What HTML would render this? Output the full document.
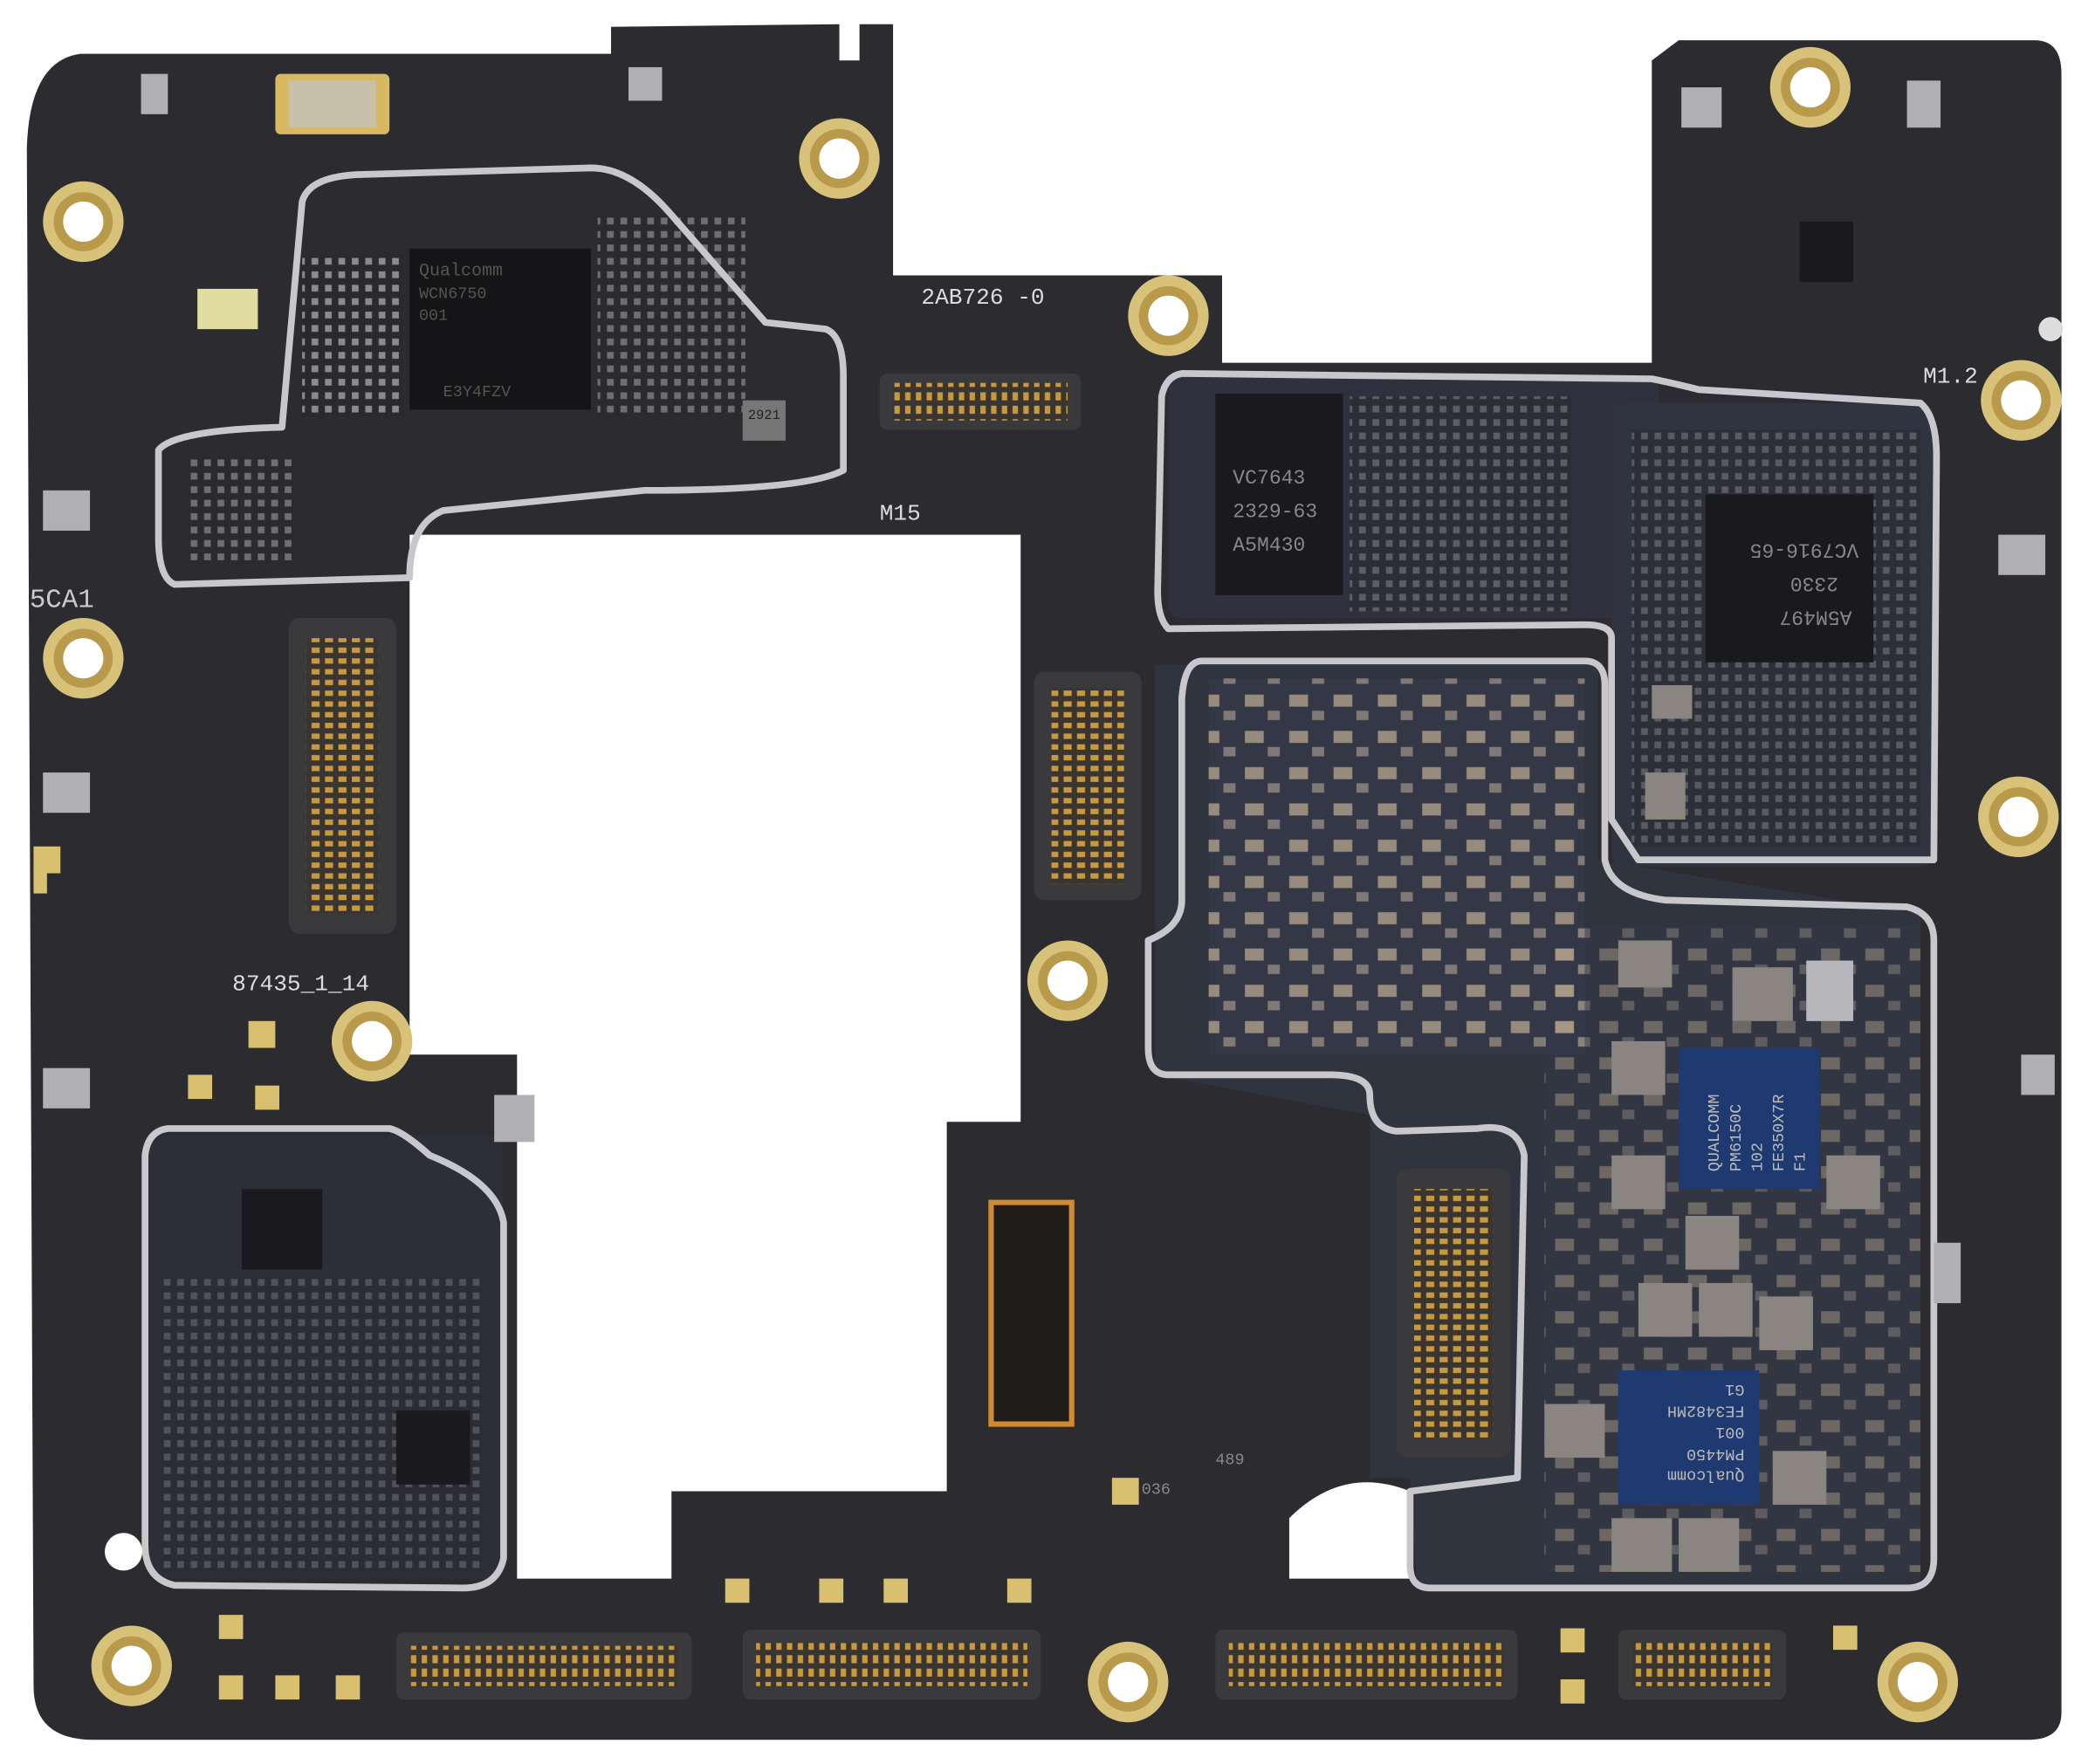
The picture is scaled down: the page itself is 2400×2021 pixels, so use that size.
<!DOCTYPE html>
<html><head><meta charset="utf-8"><style>
html,body{margin:0;padding:0;background:#fff;}
svg{display:block}
text{font-family:"Liberation Mono",monospace;}
</style></head><body>
<svg width="2400" height="2021" viewBox="0 0 1560 1313" preserveAspectRatio="none" xmlns="http://www.w3.org/2000/svg">
<defs>
<g id="hole"><circle r="30" fill="#d8c27a"/><circle r="22" fill="#b89a4a"/><circle r="15" fill="#fff"/></g>
<pattern id="pads" width="10" height="10" patternUnits="userSpaceOnUse"><rect width="10" height="10" fill="#2a2a2e"/><rect x="2" y="2" width="5" height="5" fill="#8a8a90"/></pattern>
<pattern id="pins" width="8" height="20" patternUnits="userSpaceOnUse"><rect width="8" height="20" fill="#3a3530"/><rect x="2" y="2" width="4" height="6" fill="#c89a40"/><rect x="2" y="12" width="4" height="6" fill="#c89a40"/></pattern>
<pattern id="pinsv" width="20" height="8" patternUnits="userSpaceOnUse"><rect width="20" height="8" fill="#3a3530"/><rect x="2" y="2" width="6" height="4" fill="#c89a40"/><rect x="12" y="2" width="6" height="4" fill="#c89a40"/></pattern>
<pattern id="caps" width="33" height="27" patternUnits="userSpaceOnUse"><rect width="33" height="27" fill="#343848"/><rect x="3" y="4" width="14" height="9" fill="#b8a890"/><rect x="20" y="16" width="9" height="7" fill="#9a9088"/></pattern>
</defs>
<path fill="#2c2c30" d="M60 40 L455 40 L455 20 L625 18 L625 45 L640 45 L640 18 L665 18 L665 205 L910 205 L910 270 L1230 270 L1230 45 L1250 30 L1515 30 Q1535 30 1535 55 L1535 1275 Q1535 1295 1510 1295 L70 1295 Q25 1295 25 1255 L20 110 Q22 45 60 40 Z"/>
<path fill="#fff" d="M305 398 L760 398 L760 835 L705 835 L705 1110 L500 1110 L500 1175 L385 1175 L385 785 L305 785 Z"/>
<path fill="#fff" d="M960 1175 L960 1130 Q1000 1090 1050 1110 L1050 1175 Z"/>
<rect x="870" y="280" width="365" height="180" fill="#2f323e" rx="10"/>
<path fill="#30343f" d="M860 495 L1190 495 L1190 640 L1430 680 L1430 1180 L1055 1180 L1050 1100 L1020 1100 L1020 830 L860 800 Z"/>
<rect x="1200" y="300" width="240" height="345" fill="#303340" rx="10"/>
<rect x="110" y="845" width="265" height="330" fill="#2d2f36" rx="14"/>
<rect x="225" y="190" width="75" height="120" fill="url(#pads)"/>
<rect x="445" y="160" width="110" height="150" fill="url(#pads)" opacity=".7"/>
<rect x="140" y="340" width="80" height="80" fill="url(#pads)" opacity=".7"/>
<rect x="1005" y="295" width="165" height="160" fill="url(#pads)" opacity=".5"/>
<rect x="1215" y="320" width="215" height="310" fill="url(#pads)" opacity=".45"/>
<rect x="120" y="950" width="240" height="220" fill="url(#pads)" opacity=".4"/>
<rect x="900" y="505" width="280" height="280" fill="url(#caps)" opacity=".75"/>
<rect x="1150" y="690" width="280" height="480" fill="url(#caps)" opacity=".45"/>
<g fill="none" stroke="#c8c8cc" stroke-width="5" stroke-linejoin="round">
<path d="M265 130 L440 125 Q470 125 500 160 L570 240 L615 245 Q628 250 628 280 L628 350 Q600 365 480 365 L330 380 Q305 390 305 430 L130 435 Q118 430 118 400 L118 335 Q130 320 210 318 L225 150 Q230 132 265 130 Z"/>
<path d="M880 278 L1230 282 Q1245 285 1265 290 L1430 300 Q1442 310 1442 340 L1440 640 L1220 640 L1200 610 L1200 475 Q1200 465 1180 465 L870 468 Q862 460 862 440 L865 295 Q868 280 880 278 Z"/>
<path d="M895 492 L1180 492 Q1195 492 1195 510 L1195 640 Q1200 665 1240 670 L1420 675 Q1440 680 1440 700 L1440 1160 Q1440 1182 1420 1182 L1065 1182 Q1050 1182 1050 1165 L1050 1110 L1130 1100 L1135 860 Q1130 835 1100 840 L1040 842 Q1020 840 1020 815 Q1020 800 990 800 L870 800 Q855 800 855 780 L855 700 Q880 690 880 670 L880 520 Q882 492 895 492 Z"/>
<path d="M125 840 L290 840 Q300 842 320 860 Q370 880 375 910 L375 1160 Q370 1182 345 1182 L130 1180 Q108 1175 108 1150 L108 860 Q110 842 125 840 Z"/>
</g>
<use href="#hole" x="62" y="165"/><use href="#hole" x="62" y="490"/><use href="#hole" x="625" y="118"/>
<use href="#hole" x="870" y="235"/><use href="#hole" x="1348" y="65"/><use href="#hole" x="1505" y="298"/>
<use href="#hole" x="1503" y="608"/><use href="#hole" x="795" y="730"/><use href="#hole" x="277" y="775"/>
<use href="#hole" x="98" y="1240"/><use href="#hole" x="840" y="1252"/><use href="#hole" x="1428" y="1252"/>
<circle cx="92" cy="1155" r="14" fill="#fff"/><circle cx="1527" cy="245" r="9" fill="#ddd"/>
<rect x="305" y="185" width="135" height="120" fill="#151517"/>
<text x="312" y="205" font-size="13" fill="#555">Qualcomm</text><text x="312" y="222" font-size="12" fill="#555">WCN6750</text><text x="312" y="238" font-size="12" fill="#555">001</text><text x="330" y="295" font-size="12" fill="#555">E3Y4FZV</text>
<rect x="905" y="293" width="95" height="150" fill="#1a1a1e"/>
<text x="918" y="360" font-size="15" fill="#888">VC7643</text><text x="918" y="385" font-size="15" fill="#888">2329-63</text><text x="918" y="410" font-size="15" fill="#888">A5M430</text>
<rect x="1270" y="368" width="125" height="125" fill="#1a1a1e"/>
<g transform="rotate(180 1332 430)"><text x="1285" y="405" font-size="15" fill="#888">A5M497</text><text x="1295" y="430" font-size="15" fill="#888">2330</text><text x="1280" y="455" font-size="15" fill="#888">VC7916-65</text></g>
<rect x="1250" y="780" width="105" height="105" fill="#1e3a70"/>
<g transform="rotate(-90 1302 832)"><text x="1262" y="810" font-size="12" fill="#bbb">QUALCOMM</text><text x="1262" y="826" font-size="12" fill="#bbb">PM6150C</text><text x="1262" y="842" font-size="12" fill="#bbb">102</text><text x="1262" y="858" font-size="12" fill="#bbb">FE350X7R</text><text x="1262" y="874" font-size="12" fill="#bbb">F1</text></g>
<rect x="1205" y="1020" width="105" height="100" fill="#1e3a70"/>
<g transform="rotate(180 1257 1070)"><text x="1215" y="1045" font-size="12" fill="#bbb">Qualcomm</text><text x="1215" y="1061" font-size="12" fill="#bbb">PM4450</text><text x="1215" y="1077" font-size="12" fill="#bbb">001</text><text x="1215" y="1093" font-size="12" fill="#bbb">FE3482MH</text><text x="1215" y="1109" font-size="12" fill="#bbb">G1</text></g>
<rect x="180" y="885" width="60" height="60" fill="#1a1a1e"/>
<rect x="295" y="1050" width="55" height="55" fill="#1a1a1e"/>
<rect x="1340" y="165" width="40" height="45" fill="#1a1a1e"/>
<g fill="#8a8580">
<rect x="1205" y="700" width="40" height="35"/><rect x="1290" y="720" width="45" height="40"/><rect x="1345" y="715" width="35" height="45" fill="#b8b8bc"/>
<rect x="1200" y="775" width="40" height="40"/><rect x="1200" y="860" width="40" height="40"/><rect x="1360" y="860" width="40" height="40"/>
<rect x="1255" y="905" width="40" height="40"/><rect x="1220" y="955" width="40" height="40"/><rect x="1265" y="955" width="40" height="40"/><rect x="1310" y="965" width="40" height="40"/>
<rect x="1150" y="1045" width="45" height="40"/><rect x="1320" y="1080" width="40" height="40"/><rect x="1200" y="1130" width="45" height="40"/><rect x="1250" y="1130" width="45" height="40"/>
<rect x="1230" y="510" width="30" height="25"/><rect x="1225" y="575" width="30" height="35"/>
</g>
<rect x="215" y="460" width="80" height="235" rx="8" fill="#3a3a3c"/><rect x="228" y="475" width="54" height="205" fill="url(#pinsv)"/>
<rect x="770" y="500" width="80" height="170" rx="8" fill="#3a3a3c"/><rect x="783" y="512" width="54" height="146" fill="url(#pinsv)"/>
<rect x="655" y="278" width="150" height="42" rx="6" fill="#3a3a3c"/><rect x="665" y="285" width="130" height="28" fill="url(#pins)"/>
<rect x="1040" y="870" width="85" height="215" rx="8" fill="#3a3a3c"/><rect x="1053" y="885" width="59" height="185" fill="url(#pinsv)"/>
<rect x="738" y="895" width="60" height="165" fill="#201c1a" stroke="#d08a30" stroke-width="4"/>
<rect x="295" y="1215" width="220" height="50" rx="6" fill="#3a3a3c"/><rect x="305" y="1225" width="200" height="30" fill="url(#pins)"/>
<rect x="553" y="1213" width="222" height="52" rx="6" fill="#3a3a3c"/><rect x="563" y="1223" width="202" height="32" fill="url(#pins)"/>
<rect x="905" y="1213" width="225" height="52" rx="6" fill="#3a3a3c"/><rect x="915" y="1223" width="205" height="32" fill="url(#pins)"/>
<rect x="1205" y="1213" width="125" height="52" rx="6" fill="#3a3a3c"/><rect x="1215" y="1223" width="105" height="32" fill="url(#pins)"/>
<g fill="#d9c070">
<rect x="185" y="760" width="20" height="20"/><rect x="140" y="800" width="18" height="18"/><rect x="190" y="808" width="18" height="18"/>
<rect x="163" y="1202" width="18" height="18"/><rect x="163" y="1247" width="18" height="18"/><rect x="205" y="1247" width="18" height="18"/><rect x="250" y="1247" width="18" height="18"/>
<rect x="540" y="1175" width="18" height="18"/><rect x="610" y="1175" width="18" height="18"/><rect x="658" y="1175" width="18" height="18"/><rect x="750" y="1175" width="18" height="18"/>
<rect x="828" y="1100" width="20" height="20"/><rect x="1162" y="1212" width="18" height="18"/><rect x="1162" y="1250" width="18" height="18"/><rect x="1365" y="1210" width="18" height="18"/>
<path d="M25 630 L45 630 L45 650 L35 650 L35 665 L25 665 Z"/>
</g>
<rect x="205" y="55" width="85" height="45" rx="4" fill="#d8b860"/><rect x="215" y="60" width="65" height="35" fill="#c8c0a8"/>
<rect x="147" y="215" width="45" height="30" fill="#e0dca0"/>
<g fill="#b0b0b4"><rect x="105" y="55" width="20" height="30"/><rect x="32" y="365" width="35" height="30"/><rect x="32" y="575" width="35" height="30"/><rect x="32" y="795" width="35" height="30"/><rect x="1252" y="65" width="30" height="30"/><rect x="1420" y="60" width="25" height="35"/><rect x="1488" y="398" width="35" height="30"/><rect x="1505" y="785" width="25" height="30"/><rect x="368" y="815" width="30" height="35"/><rect x="468" y="50" width="25" height="25"/><rect x="1440" y="925" width="20" height="45"/></g>
<text x="686" y="226" font-size="17" fill="#ddd">2AB726  -0</text>
<text x="655" y="387" font-size="17" fill="#ddd">M15</text>
<text x="1432" y="285" font-size="17" fill="#ddd">M1.2</text>
<text x="22" y="452" font-size="20" fill="#ccc" font-family="Liberation Sans">5CA1</text>
<text x="173" y="737" font-size="17" fill="#ddd">87435_1_14</text>
<text x="905" y="1090" font-size="12" fill="#888">489</text>
<text x="850" y="1112" font-size="12" fill="#888">036</text>
<rect x="553" y="298" width="32" height="30" fill="#777"/>
<text x="557" y="312" font-size="10" fill="#222">2921</text>
</svg>
</body></html>
